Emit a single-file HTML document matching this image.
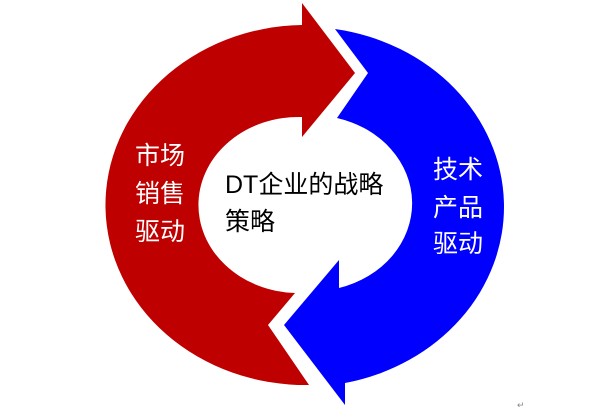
<!DOCTYPE html>
<html><head><meta charset="utf-8"><style>
html,body{margin:0;padding:0;background:#fff;}
svg{display:block}
text{font-family:"Liberation Sans","Noto Sans CJK SC",sans-serif;}
</style></head><body>
<svg width="609" height="409" viewBox="0 0 609 409" xmlns="http://www.w3.org/2000/svg">
<path d="M302 25 L302 3 L355 73 L302 137 L302 117 A100 88 0 0 0 295 293 L268 325 L309 385 A200 180 0 1 1 302 25 Z" fill="#bf0000"/>
<path d="M335 29 L368 73 L337 118 A100 88 0 0 1 339 288 L339 260 L284 325 L345 405 L345 383 A200 180 0 0 0 335 29 Z" fill="#0000ff"/>
<g fill="#fff" font-size="25">
<text x="135" y="164">市场</text>
<text x="135" y="202">销售</text>
<text x="135" y="240">驱动</text>
<text x="433" y="178">技术</text>
<text x="433" y="216">产品</text>
<text x="433" y="252">驱动</text>
</g>
<g fill="#000" font-size="25">
<text x="225" y="193">DT企业的战略</text>
<text x="225" y="230">策略</text>
</g>
<text x="517" y="408" font-size="9" fill="#888">↵</text>
</svg>
</body></html>
